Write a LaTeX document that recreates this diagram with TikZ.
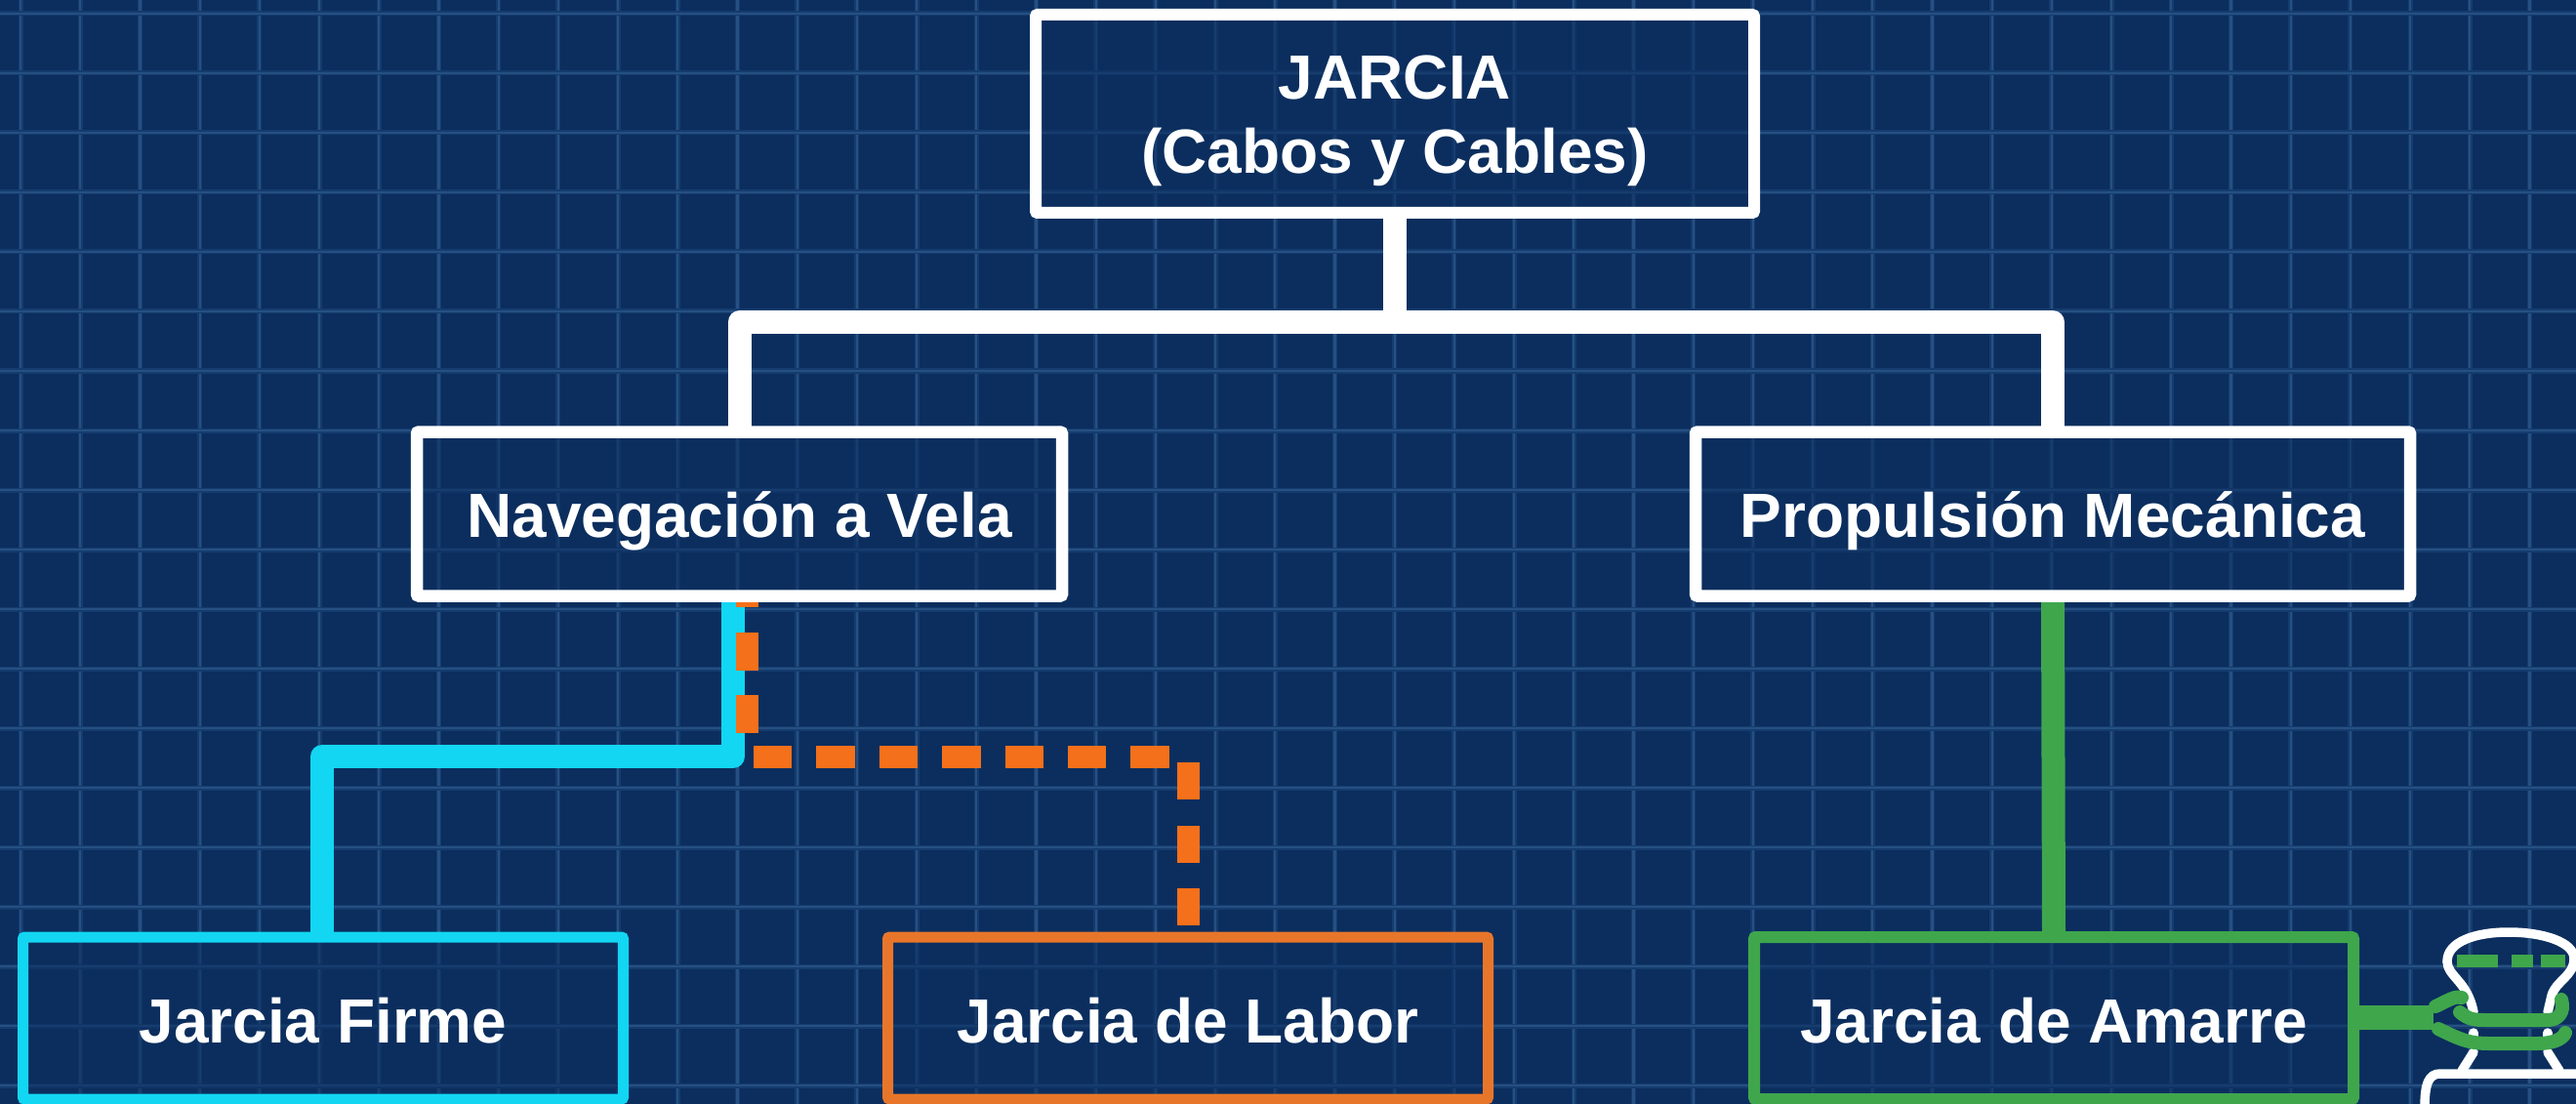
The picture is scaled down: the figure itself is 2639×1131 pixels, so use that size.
\documentclass[tikz,border=0pt]{standalone}
\usepackage{fontspec}
\setmainfont{Liberation Sans}
\definecolor{bgnavy}{HTML}{0B2E5E}
\definecolor{gridsoft}{HTML}{153C6E}
\definecolor{gridblue}{HTML}{265082}
\definecolor{cyanline}{HTML}{12D6F2}
\definecolor{orangeline}{HTML}{F5701A}
\definecolor{orangebox}{HTML}{E8762A}
\definecolor{greenline}{HTML}{3FA64C}
\pgfdeclarelayer{gridlayer}
\pgfdeclarelayer{wirelayer}
\pgfsetlayers{gridlayer,wirelayer,main}
\tikzset{
  boxbase/.style={draw, line width=12pt, rounded corners=2pt, fill=bgnavy, fill opacity=.55, draw opacity=1, text opacity=1, text=white, outer sep=0pt, inner sep=0pt, align=center, font=\fontsize{64}{76}\selectfont\bfseries},
  midline/.style={text height=48pt, text depth=0pt},
  lowline/.style={text height=50pt, text depth=0pt},
  wirewhite/.style={draw=white, line width=24pt, line join=round},
  wirecyan/.style={draw=cyanline, line width=24pt, line join=round},
  wiregreen/.style={draw=greenline, line width=24pt},
  wireorange/.style={draw=orangeline, line width=23pt, dash pattern=on 5pt off 26pt on 39pt off 25pt on 39pt off 31pt on 39.4pt off 25pt on 39.4pt off 25pt on 39.4pt off 25pt on 39.4pt off 25pt on 39.4pt off 25pt on 39.4pt off 25pt on 39.4pt off 25pt on 38pt off 27pt on 38pt off 26pt on 38pt off 200pt},
  bollardline/.style={draw=white, line width=9.5pt, line join=round, line cap=round},
  ropeline/.style={draw=greenline, line width=14pt, line cap=round, line join=round},
}
\begin{document}
\begin{tikzpicture}[x=1pt,y=-1pt]
\useasboundingbox (0,0) rectangle (2639,1131);
\clip (0,0) rectangle (2639,1131);
\begin{pgfonlayer}{gridlayer}
\fill[bgnavy] (0,0) rectangle (2639,1131);
\foreach \i in {0,...,43} {
  \draw[gridsoft, line width=5pt] ({21+61.2*\i},0) -- ({21+61.2*\i},1131);
  \draw[gridblue, line width=2.2pt] ({21+61.2*\i},0) -- ({21+61.2*\i},1131);
}
\foreach \j in {0,...,18} {
  \draw[gridsoft, line width=5pt] (0,{14+61*\j}) -- (2639,{14+61*\j});
  \draw[gridblue, line width=2.2pt] (0,{14+61*\j}) -- (2639,{14+61*\j});
}
\end{pgfonlayer}
% nodes
\node[boxbase, draw=white, minimum width=736pt, minimum height=203pt, text height=123pt, text depth=0pt] (root) at (1429,116.5) {JARCIA\\(Cabos y Cables)};
\node[boxbase, midline, draw=white, line width=12.5pt, minimum width=661pt, minimum height=168pt] (nav) at (757.5,526.5) {Navegación a Vela};
\node[boxbase, midline, draw=white, line width=12.5pt, minimum width=732pt, minimum height=168pt] (prop) at (2103,526.5) {Propulsión Mecánica};
\node[boxbase, lowline, draw=cyanline, line width=11pt, minimum width=615pt, minimum height=166pt] (firme) at (331,1043) {Jarcia Firme};
\node[boxbase, lowline, draw=orangebox, line width=11pt, minimum width=615pt, minimum height=166pt] (labor) at (1217,1043) {Jarcia de Labor};
\node[boxbase, lowline, draw=greenline, line width=12pt, minimum width=614pt, minimum height=166pt] (amarre) at (2104,1043) {Jarcia de Amarre};
% connectors
\begin{pgfonlayer}{wirelayer}
\coordinate (barc) at (1429,330);
\coordinate (bendnav) at (751,775);
\coordinate (bendfirme) at (330,775);
\coordinate (bendlabor) at (1217,775);
\coordinate (startcyan) at (751,611);
\coordinate (startorange) at (765,617);
\coordinate (endfirme) at (330,960);
\draw[wirewhite] (root.south) -- (barc);
\draw[wirewhite] (nav.north) |- (barc) -| (prop.north);
\draw[wirecyan] (startcyan) -- (bendnav) -- (bendfirme) -- (endfirme);
\draw[wireorange] (startorange) -- (765,775) -- (bendlabor) -- (labor.north);
\draw[wiregreen] (prop.south) -- (amarre.north);
\end{pgfonlayer}
% bollard
\draw[bollardline] (2507,985) .. controls (2507,965) and (2535,955) .. (2570,955) .. controls (2605,955) and (2637,965) .. (2637,982) .. controls (2637,1000) and (2618,1005) .. (2614,1020) -- (2610,1037);
\draw[bollardline] (2507,985) .. controls (2507,1000) and (2528,1005) .. (2534,1037);
\draw[bollardline] (2534,1058) -- (2534,1062);
\draw[bollardline] (2610,1058) -- (2610,1062);
\draw[bollardline] (2534,1078) -- (2522,1097);
\draw[bollardline] (2610,1078) -- (2622,1097);
\draw[bollardline] (2660,1100) -- (2500,1100) .. controls (2488,1100) and (2484,1110) .. (2484,1135);
% rope and dashes
\draw[greenline, line width=13pt] (2517,984) -- (2559,984) (2573,984) -- (2595,984) (2603,984) -- (2628,984);
\node[fill=greenline, inner sep=0pt, outer sep=0pt, minimum width=76pt, minimum height=25pt] (ropeend) at (2455,1042) {};
\draw[wiregreen, line width=25pt] (amarre.east |- ropeend) -- (ropeend);
\draw[ropeline] (2495,1031) .. controls (2510,1024) and (2515,1020) .. (2522,1022);
\draw[ropeline] (2520,1037) .. controls (2530,1045) and (2535,1045) .. (2550,1045) -- (2610,1045) .. controls (2620,1045) and (2628,1038) .. (2624,1024);
\draw[ropeline] (2498,1054) .. controls (2520,1065) and (2530,1069) .. (2550,1069) -- (2600,1069) .. controls (2612,1069) and (2625,1066) .. (2628,1058);
\end{tikzpicture}
\end{document}
